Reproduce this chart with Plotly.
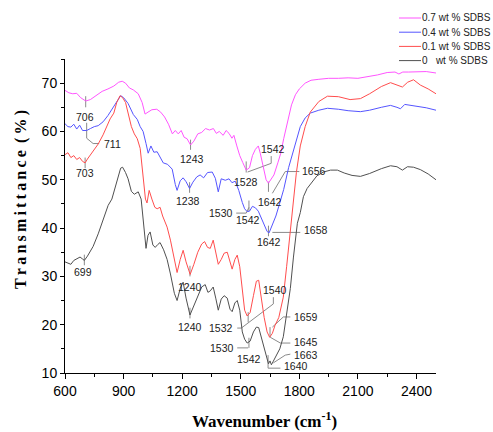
import plotly.graph_objects as go

# ---------------- data ----------------
wn_07 = [600, 620, 640, 660, 680, 706, 730, 760, 790, 820, 850, 875, 893, 910, 930, 950, 975, 995,
         1010, 1025, 1045, 1070, 1090, 1110, 1130, 1150, 1165, 1180, 1195, 1210, 1225, 1243, 1260,
         1280, 1300, 1320, 1340, 1360, 1375, 1390, 1410, 1425, 1440, 1455, 1465, 1480, 1495, 1510,
         1528, 1545, 1560, 1575, 1590, 1600, 1615, 1630, 1642, 1655, 1670, 1690, 1705, 1720, 1740,
         1760, 1780, 1800, 1830, 1860, 1900, 1950, 2000, 2050, 2100, 2150, 2200, 2250, 2290, 2310,
         2330, 2360, 2400, 2450, 2500]
t_07 = [68.5, 68.0, 67.8, 67.9, 67.0, 66.3, 66.6, 67.4, 68.3, 68.8, 69.4, 70.2, 70.4, 70.0, 69.0,
        68.6, 67.8, 66.0, 63.6, 64.0, 64.5, 64.6, 64.0, 63.0, 61.5, 59.5, 60.2, 59.5, 60.2, 58.8,
        58.5, 57.2, 58.0, 59.5, 59.8, 60.6, 60.3, 60.6, 59.6, 60.0, 59.2, 60.2, 59.6, 58.6, 59.2,
        57.0, 55.0, 53.6, 52.0, 52.5, 55.0, 56.3, 57.0, 55.5, 52.5, 50.0, 49.3, 50.0, 51.0, 53.5,
        55.5, 58.5, 62.0, 65.5, 67.6, 68.8, 70.0, 70.6, 70.8, 71.0, 71.0, 71.1, 71.0, 71.3, 71.7,
        72.2, 72.3, 71.9, 72.3, 72.3, 72.4, 72.4, 72.1]

wn_04 = [600, 615, 630, 645, 660, 675, 690, 711, 730, 750, 770, 795, 820, 846, 865, 885, 900, 923,
         950, 970, 985, 1000, 1015, 1026, 1040, 1055, 1072, 1090, 1103, 1125, 1149, 1165, 1174,
         1190, 1205, 1220, 1238, 1255, 1275, 1292, 1310, 1330, 1354, 1370, 1385, 1400, 1421, 1440,
         1455, 1472, 1490, 1508, 1520, 1533, 1545, 1560, 1575, 1590, 1605, 1620, 1635, 1645, 1660,
         1680, 1700, 1720, 1745, 1769, 1790, 1805, 1830, 1856, 1900, 1944, 2000, 2050, 2113, 2160,
         2220, 2267, 2300, 2318, 2340, 2370, 2400, 2450, 2500]
t_04 = [61.6, 61.0, 60.9, 61.5, 60.5, 61.3, 60.2, 60.2, 60.6, 61.0, 61.2, 62.0, 63.3, 65.0, 66.0,
        67.4, 67.0, 65.8, 63.5, 62.5, 61.0, 60.0, 57.5, 55.5, 57.0, 55.7, 55.8, 54.5, 53.5, 53.2,
        52.2, 49.0, 47.8, 49.8, 50.4, 49.6, 48.2, 49.5, 50.6, 51.0, 50.4, 51.5, 51.6, 50.3, 47.5,
        50.2, 49.9, 50.2, 49.4, 49.7, 47.8, 45.3, 44.0, 43.4, 43.5, 44.5, 44.2, 43.5, 42.0, 40.5,
        39.3, 39.0, 40.5, 42.5, 45.2, 48.0, 52.5, 55.7, 59.0, 61.0, 62.8, 63.8, 64.4, 64.8, 64.6,
        64.3, 64.1, 64.4, 65.0, 65.4, 65.0, 64.7, 65.6, 65.4, 65.2, 64.9, 64.4]

wn_01 = [600, 615, 630, 645, 660, 675, 690, 703, 715, 730, 744, 770, 795, 815, 831, 850, 865, 882,
         895, 910, 925, 940, 955, 970, 985, 995, 1005, 1012, 1020, 1031, 1045, 1060, 1072, 1087,
         1100, 1123, 1140, 1160, 1174, 1190, 1205, 1220, 1241, 1260, 1280, 1300, 1315, 1330, 1344,
         1359, 1372, 1385, 1400, 1415, 1431, 1445, 1456, 1470, 1482, 1495, 1508, 1520, 1533, 1548,
         1565, 1580, 1592, 1605, 1620, 1635, 1648, 1662, 1675, 1695, 1718, 1735, 1754, 1770, 1785,
         1805, 1830, 1856, 1900, 1944, 2000, 2060, 2113, 2160, 2220, 2267, 2300, 2328, 2355, 2385,
         2420, 2460, 2500]
t_01 = [55.2, 55.6, 54.6, 55.0, 54.2, 54.6, 53.8, 53.5, 54.3, 55.2, 55.8, 57.4, 59.3, 61.0, 62.6,
        63.8, 66.0, 67.4, 67.0, 66.0, 63.5, 61.0, 59.5, 58.5, 56.5, 53.0, 48.5, 46.0, 45.2, 47.8,
        46.0, 44.3, 44.0, 44.3, 42.5, 40.2, 37.5, 33.5, 30.8, 33.5, 35.4, 33.0, 30.4, 32.5, 35.0,
        36.7, 37.2, 36.0, 35.8, 37.5, 35.0, 32.5, 33.5, 34.8, 35.0, 33.0, 31.5, 33.5, 34.4, 32.0,
        26.5, 23.0, 21.8, 22.5, 26.0, 29.0, 29.2, 25.5, 21.5, 18.5, 17.4, 18.2, 19.8, 21.5, 25.7,
        32.0, 39.5, 46.5, 51.5, 57.0, 61.0, 64.0, 66.2, 67.3, 67.2, 66.6, 66.8, 67.8, 69.3, 70.1,
        69.6, 69.2, 70.2, 70.7, 69.6, 68.8, 67.8]

wn_00 = [600, 615, 630, 645, 660, 677, 690, 699, 715, 730, 744, 770, 795, 821, 840, 856, 872, 885,
         895, 910, 923, 940, 955, 975, 990, 1000, 1010, 1015, 1025, 1036, 1050, 1062, 1075, 1087,
         1105, 1123, 1140, 1160, 1174, 1190, 1205, 1220, 1240, 1260, 1280, 1300, 1318, 1332, 1344,
         1359, 1372, 1385, 1400, 1415, 1431, 1445, 1456, 1470, 1482, 1495, 1508, 1520, 1533, 1548,
         1565, 1580, 1592, 1605, 1620, 1632, 1642, 1650, 1657, 1665, 1680, 1700, 1718, 1735, 1754,
         1770, 1790, 1805, 1821, 1840, 1856, 1890, 1923, 1960, 1995, 2030, 2070, 2113, 2160, 2220,
         2267, 2300, 2328, 2354, 2385, 2420, 2460, 2500]
t_00 = [33.0, 32.8, 32.5, 33.3, 33.6, 34.0, 33.6, 33.3, 34.2, 35.2, 36.2, 38.8, 41.6, 44.7, 46.0,
        48.2, 50.5, 52.4, 52.6, 51.5, 50.2, 47.6, 47.0, 47.5, 46.0, 42.0, 37.0, 35.8, 38.5, 39.2,
        36.5, 36.0, 36.6, 37.0, 35.5, 33.5, 30.5, 26.5, 25.0, 27.5, 28.8, 25.5, 22.0, 24.0, 26.0,
        27.8, 28.3, 26.7, 27.0, 27.8, 25.5, 23.0, 25.3, 26.0, 25.5, 23.2, 22.7, 24.5, 25.0, 23.0,
        18.5, 17.0, 16.2, 16.6, 18.5, 19.5, 19.4, 17.5, 15.5, 13.5, 11.9, 12.5, 11.7, 12.3, 13.5,
        15.0, 17.5, 22.0, 27.5, 34.0, 41.0, 43.2, 46.5, 48.2, 49.0, 50.8, 51.6, 52.0, 52.0, 51.4,
        50.9, 50.7, 51.3, 52.3, 52.9, 52.7, 52.0, 52.7, 52.6, 52.1, 51.2, 50.0]

series_names = ["0.7 wt % SDBS", "0.4 wt % SDBS", "0.1 wt % SDBS", "0\u00a0\u00a0\u00a0wt % SDBS"]
x_ticks = [600, 900, 1200, 1500, 1800, 2100, 2400]
y_ticks = [10, 20, 30, 40, 50, 60, 70]

# peak labels: text, wavenumber, transmittance, anchor
peak_labels = [
    ("706", 703, 62.9, "center"), ("711", 790, 57.5, "left"), ("703", 703, 51.3, "center"),
    ("699", 692, 30.9, "center"), ("1243", 1251, 54.4, "center"), ("1238", 1231, 45.7, "center"),
    ("1528", 1528, 49.5, "center"), ("1542", 1667, 56.3, "center"), ("1642", 1651, 45.3, "center"),
    ("1656", 1805, 51.9, "left"), ("1530", 1472, 43.1, "right"), ("1542", 1538, 41.6, "center"),
    ("1642", 1646, 37.1, "center"), ("1658", 1815, 39.7, "left"), ("1240", 1241, 27.8, "center"),
    ("1540", 1677, 27.1, "center"), ("1532", 1472, 19.3, "right"), ("1659", 1764, 21.6, "left"),
    ("1240", 1241, 19.5, "center"), ("1645", 1764, 16.4, "left"), ("1530", 1477, 15.2, "right"),
    ("1542", 1544, 12.9, "center"), ("1663", 1764, 13.7, "left"), ("1640", 1713, 11.4, "left"),
]

# peak marker ticks and leader lines (wavenumbers, transmittances)
leaders = [
    ([706, 706], [67.3, 65.0]),
    ([711, 711, 744, 775], [61.8, 58.6, 57.5, 57.5]),
    ([703, 703], [54.6, 52.4]),
    ([699, 699], [34.5, 32.3]),
    ([1243, 1243], [58.3, 56.2]),
    ([1238, 1238], [49.5, 47.3]),
    ([1528, 1528], [53.8, 51.5]),
    ([1535, 1656, 1656], [51.6, 53.4, 54.9]),
    ([1642, 1642], [49.6, 47.5]),
    ([1662, 1728, 1800], [47.2, 51.7, 51.7]),
    ([1542, 1542], [45.7, 43.5]),
    ([1477, 1528, 1542], [43.1, 43.1, 44.3]),
    ([1642, 1642], [40.5, 38.3]),
    ([1662, 1805], [39.1, 39.1]),
    ([1240, 1240], [32.2, 30.0]),
    ([1240, 1240], [23.5, 21.3]),
    ([1538, 1538], [22.6, 20.5]),
    ([1482, 1503, 1667, 1667], [19.3, 19.3, 24.3, 25.7]),
    ([1650, 1650], [19.5, 17.4]),
    ([1662, 1718, 1754], [19.5, 21.6, 21.6]),
    ([1651, 1703, 1754], [17.4, 16.2, 16.2]),
    ([1542, 1542], [17.3, 15.2]),
    ([1482, 1538], [15.2, 15.2]),
    ([1640, 1640, 1703], [13.7, 11.0, 11.0]),
    ([1667, 1728, 1754], [12.1, 13.7, 13.9]),
]

# ---------------- figure ----------------
colors = ["#ff55ff", "#5555ff", "#ff4d4d", "#505050"]
xs = [wn_07, wn_04, wn_01, wn_00]
ys = [t_07, t_04, t_01, t_00]

fig = go.Figure()
for lx, ly in leaders:
    fig.add_trace(go.Scatter(x=lx, y=ly, mode="lines", line=dict(color="#8a8a8a", width=1),
                             showlegend=False, hoverinfo="skip"))
for name, x, y, c in zip(series_names, xs, ys, colors):
    fig.add_trace(go.Scatter(x=x, y=y, mode="lines", name=name, line=dict(color=c, width=1),
                             showlegend=False))

L, R, T, B = 65, 57, 59, 59
W, H = 493, 432
pw, ph = W - L - R, H - T - B

def px2paper(px, py):
    return (px - L) / pw, (H - B - py) / ph

annots = []
for text, x, y, anc in peak_labels:
    annots.append(dict(text=text, x=x, y=y, xref="x", yref="y", showarrow=False,
                       xanchor=anc, yanchor="middle",
                       font=dict(family="Liberation Sans, Arial", size=10.5, color="#222")))

# manual legend
shapes = []
for i, (name, c) in enumerate(zip(series_names, colors)):
    py = 18 + 14.2 * i
    x0, y0 = px2paper(399, py)
    x1, _ = px2paper(421, py)
    shapes.append(dict(type="line", xref="paper", yref="paper", x0=x0, x1=x1, y0=y0, y1=y0,
                       line=dict(color=c, width=1)))
    annots.append(dict(text=name, x=px2paper(421, py)[0], y=y0, xref="paper", yref="paper",
                       showarrow=False, xanchor="left", yanchor="middle", borderpad=0,
                       font=dict(family="Liberation Sans, Arial", size=10, color="#222")))

# axis titles
tx, ty = px2paper(264, 420)
annots.append(dict(text="<b>Wavenumber (cm<sup>-1</sup>)</b>", x=tx, y=ty, xref="paper", yref="paper",
                   showarrow=False, xanchor="center", yanchor="middle",
                   font=dict(family="Liberation Serif, Times New Roman", size=17, color="#000")))
yx, yy = px2paper(21, 200)
annots.append(dict(text="<b>T\u2009r\u2009a\u2009n\u2009s\u2009m\u2009i\u2009t\u2009t\u2009a\u2009n\u2009c\u2009e\u2009 (\u2009%\u2009)</b>",
                   x=yx, y=yy, xref="paper", yref="paper", textangle=-90,
                   showarrow=False, xanchor="center", yanchor="middle",
                   font=dict(family="Liberation Serif, Times New Roman", size=16, color="#000")))

fig.update_layout(
    width=W, height=H, margin=dict(l=L, r=R, t=T, b=B, pad=0),
    paper_bgcolor="white", plot_bgcolor="white",
    annotations=annots, shapes=shapes, showlegend=False,
    xaxis=dict(range=[600, 2500], tickvals=x_ticks, ticks="outside", ticklen=5, tickcolor="#000",
               showline=True, linecolor="#000", linewidth=1, showgrid=False, zeroline=False,
               automargin=False, tickfont=dict(family="Liberation Sans, Arial", size=14, color="#000"),
               minor=dict(dtick=150, tick0=600, ticks="outside", ticklen=3, tickcolor="#000", showgrid=False)),
    yaxis=dict(range=[10, 75], tickvals=y_ticks, ticks="outside", ticklen=4, tickcolor="#000",
               showline=True, linecolor="#000", linewidth=1, showgrid=False, zeroline=False,
               automargin=False, tickfont=dict(family="Liberation Sans, Arial", size=14, color="#000"),
               minor=dict(dtick=5, tick0=10, ticks="outside", ticklen=3, tickcolor="#000", showgrid=False)),
)

fig.write_html("out.html")
